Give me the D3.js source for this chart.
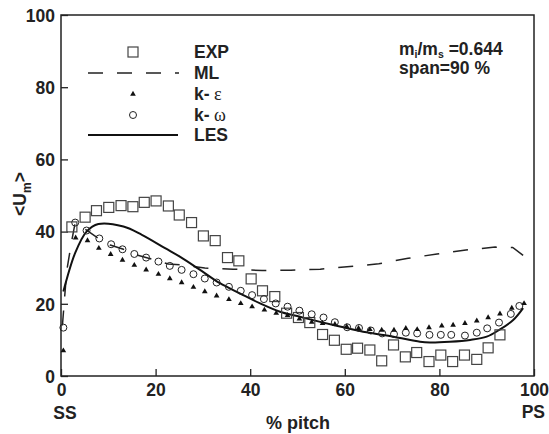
<!DOCTYPE html>
<html>
<head>
<meta charset="utf-8">
<script src="https://cdn.jsdelivr.net/npm/d3@7"></script>
<style>
  body { margin: 0; background: #fff; }
  svg { display: block; }
  text { font-family: "Liberation Sans", Arial, sans-serif; font-weight: bold; fill: #222; }
</style>
</head>
<body>
<svg id="chart"></svg>
<script>
// data: [% pitch, <Um>]
const expData = [
  [2.3, 41.3], [5.1, 44.0], [7.5, 45.8], [10.1, 46.7], [12.7, 47.2], [15.2, 46.9],
  [17.6, 48.1], [20.1, 48.5], [22.7, 47.1], [25.0, 44.6], [27.6, 42.5], [30.1, 38.8],
  [32.6, 37.5], [35.2, 32.8], [37.6, 31.9], [40.2, 26.9], [42.6, 23.6], [45.2, 22.0],
  [47.7, 17.4], [50.2, 16.2], [52.6, 14.8], [55.3, 11.5], [57.8, 9.9], [60.3, 7.4],
  [62.7, 7.7], [65.3, 7.2], [67.8, 4.2], [70.3, 8.6], [72.8, 5.3], [75.2, 6.5],
  [77.8, 4.0], [80.3, 5.8], [82.8, 4.0], [85.3, 5.8], [87.9, 4.6], [90.3, 7.8],
  [92.8, 11.4]
];

const mlData = [
  [0.3, 14], [1.2, 29], [2.2, 37], [3.0, 42.5], [5.4, 40.4], [7.9, 38.1], [10.4, 36.3],
  [13.2, 35.1], [15.3, 33.8], [19.9, 32.1], [22.7, 31.0], [25.5, 30.8], [30.4, 29.9],
  [36.4, 29.6], [42.5, 29.2], [48.6, 29.3], [54.8, 29.6], [61.1, 30.3], [67.2, 31.1],
  [73.4, 32.6], [79.5, 33.8], [85.6, 34.9], [91.8, 35.7], [95.5, 35.6], [97.9, 33.2]
];

const keData = [
  [0.5, 7.0], [3.1, 38.3], [5.6, 37.5], [8.0, 35.4], [10.5, 33.7], [13.0, 32.1],
  [15.5, 30.7], [18.0, 29.4], [20.6, 28.2], [23.0, 27.0], [25.5, 25.9], [28.0, 24.6],
  [30.4, 23.4], [32.9, 22.2], [35.5, 21.2], [38.0, 20.1], [40.4, 19.2], [43.0, 18.3],
  [45.5, 17.4], [47.9, 16.8], [50.4, 15.8], [53.0, 14.9], [55.3, 14.6], [57.9, 14.3],
  [60.4, 13.7], [62.9, 13.2], [65.3, 12.9], [67.8, 12.7], [70.4, 12.7], [72.9, 13.2],
  [75.3, 12.9], [77.8, 13.4], [80.5, 13.9], [82.9, 14.1], [85.4, 14.6], [87.9, 15.3],
  [90.3, 16.2], [92.8, 17.2], [95.3, 18.8], [97.9, 20.1]
];

const kwData = [
  [0.5, 13.4], [3.0, 42.5], [5.4, 40.3], [8.1, 38.1], [10.6, 36.5], [13.0, 35.1],
  [15.5, 33.8], [18.0, 32.8], [20.6, 31.7], [23.0, 30.5], [25.5, 29.4], [28.0, 28.2],
  [30.4, 27.0], [32.9, 25.9], [35.5, 24.7], [38.0, 23.6], [40.4, 22.4], [42.9, 21.3],
  [45.4, 20.1], [47.9, 19.2], [50.4, 18.1], [53.0, 17.1], [55.5, 16.2], [57.9, 14.9],
  [60.5, 13.5], [63.0, 13.3], [65.5, 12.6], [67.9, 11.8], [70.4, 11.6], [72.9, 12.0],
  [75.3, 11.8], [77.9, 11.4], [80.3, 11.4], [82.5, 11.4], [85.4, 11.2], [87.9, 12.0],
  [90.1, 13.2], [92.6, 14.8], [95.1, 17.2], [96.9, 19.4]
];

const lesData = [
  [0.5, 23.4], [3.0, 34.1], [5.4, 40.0], [7.9, 42.1], [13.2, 41.4], [17.1, 39.1],
  [22.0, 35.4], [25.2, 33.0], [29.4, 29.4], [33.6, 25.7], [37.8, 22.9], [42.1, 20.1],
  [46.3, 17.8], [50.5, 16.4], [54.8, 15.0], [59.7, 13.5], [64.6, 12.1], [70.3, 10.9],
  [75.9, 9.5], [78.0, 9.3], [82.2, 9.5], [86.5, 10.0], [90.0, 10.9], [92.8, 12.9],
  [95.6, 15.5], [97.7, 18.8]
];

const xTicks = [0, 20, 40, 60, 80, 100];
const yTicks = [0, 20, 40, 60, 80, 100];

const W = 549, H = 434;
const margin = { top: 15, right: 15, bottom: 58, left: 61 };
const width = W - margin.left - margin.right;
const height = H - margin.top - margin.bottom;

const svg = d3.select('#chart').attr('width', W).attr('height', H);
const g = svg.append('g').attr('transform', `translate(${margin.left},${margin.top})`);

const x = d3.scaleLinear().domain([0, 100]).range([0, width]);
const y = d3.scaleLinear().domain([0, 100]).range([height, 0]);

// frame
g.append('rect')
  .attr('width', width).attr('height', height)
  .attr('fill', 'none').attr('stroke', '#222').attr('stroke-width', 1.5);

// axes with inward ticks
const xAxis = g.append('g')
  .attr('transform', `translate(0,${height})`)
  .call(d3.axisBottom(x).tickValues(xTicks).tickSize(-7).tickPadding(8).tickFormat(d3.format('d')));
const yAxis = g.append('g')
  .call(d3.axisLeft(y).tickValues(yTicks).tickSize(-7).tickPadding(6).tickFormat(d3.format('d')));

[xAxis, yAxis].forEach((a) => {
  a.select('.domain').remove();
  a.selectAll('line').attr('stroke', '#222').attr('stroke-width', 1.3);
  a.selectAll('text').attr('font-size', 17.5).attr('fill', '#222')
    .attr('font-family', '"Liberation Sans", Arial, sans-serif').attr('font-weight', 'bold');
});
yAxis.selectAll('text').attr('dy', '0.36em');

const line = d3.line().x((d) => x(d[0])).y((d) => y(d[1]));
const smooth = d3.line().curve(d3.curveCatmullRom).x((d) => x(d[0])).y((d) => y(d[1]));

// ML dashed
g.append('path').datum(mlData)
  .attr('d', line).attr('fill', 'none').attr('stroke', '#222')
  .attr('stroke-width', 1.5).attr('stroke-dasharray', '15,14');

// LES solid
g.append('path').datum(lesData)
  .attr('d', smooth).attr('fill', 'none').attr('stroke', '#111').attr('stroke-width', 2);

// EXP squares
g.selectAll('.exp').data(expData).join('rect')
  .attr('x', (d) => x(d[0]) - 5).attr('y', (d) => y(d[1]) - 5)
  .attr('width', 10).attr('height', 10)
  .attr('fill', 'none').attr('stroke', '#444').attr('stroke-width', 1.2);

// k-omega circles
g.selectAll('.kw').data(kwData).join('circle')
  .attr('cx', (d) => x(d[0])).attr('cy', (d) => y(d[1])).attr('r', 3.5)
  .attr('fill', 'none').attr('stroke', '#222').attr('stroke-width', 1);

// k-epsilon triangles
const tri = d3.symbol().type(d3.symbolTriangle).size(14);
g.selectAll('.ke').data(keData).join('path')
  .attr('transform', (d) => `translate(${x(d[0])},${y(d[1])})`)
  .attr('d', tri).attr('fill', '#111');

// legend
const legend = svg.append('g');
const rows = [
  { label: 'EXP', y: 52 },
  { label: 'ML', y: 73 },
  { label: 'k-', greek: 'ε', y: 94 },
  { label: 'k-', greek: 'ω', y: 115 },
  { label: 'LES', y: 135 }
];
legend.append('rect').attr('x', 128).attr('y', 47).attr('width', 10).attr('height', 10)
  .attr('fill', 'none').attr('stroke', '#444').attr('stroke-width', 1.2);
legend.append('line').attr('x1', 88).attr('x2', 179).attr('y1', 73).attr('y2', 73)
  .attr('stroke', '#222').attr('stroke-width', 1.5).attr('stroke-dasharray', '15,14');
legend.append('path').attr('transform', 'translate(133,94)').attr('d', tri).attr('fill', '#111');
legend.append('circle').attr('cx', 133).attr('cy', 115).attr('r', 3.5)
  .attr('fill', 'none').attr('stroke', '#222').attr('stroke-width', 1);
legend.append('line').attr('x1', 88).attr('x2', 178).attr('y1', 135).attr('y2', 135)
  .attr('stroke', '#111').attr('stroke-width', 2);

rows.forEach((r) => {
  const t = legend.append('text').attr('x', 194).attr('y', r.y + 6).attr('font-size', 17.5);
  t.append('tspan').text(r.label);
  if (r.greek) {
    t.append('tspan').text(' ' + r.greek)
      .attr('font-family', '"Liberation Serif", "Times New Roman", serif')
      .attr('font-weight', 'normal').attr('font-size', 18);
  }
});

// annotation
const ann = svg.append('g');
const a1 = ann.append('text').attr('x', 399).attr('y', 55).attr('font-size', 17.5);
a1.append('tspan').text('m');
a1.append('tspan').text('i').attr('font-size', 10.5).attr('dy', 2.5);
a1.append('tspan').text('/m').attr('dy', -2.5);
a1.append('tspan').text('s').attr('font-size', 10.5).attr('dy', 2.5);
a1.append('tspan').text(' =0.644').attr('dy', -2.5);
ann.append('text').attr('x', 399).attr('y', 74).attr('font-size', 17.5).text('span=90 %');

// axis titles
svg.append('text').attr('x', 65).attr('y', 419).attr('text-anchor', 'middle')
  .attr('font-size', 17.5).text('SS');
svg.append('text').attr('x', 545).attr('y', 418).attr('text-anchor', 'end')
  .attr('font-size', 17.5).text('PS');
svg.append('text').attr('x', 298).attr('y', 429).attr('text-anchor', 'middle')
  .attr('font-size', 18).text('% pitch');

const yl = svg.append('text').attr('transform', 'translate(26,194) rotate(-90)')
  .attr('text-anchor', 'middle').attr('font-size', 17.5);
yl.append('tspan').text('<U');
yl.append('tspan').text('m').attr('font-size', 12).attr('dy', 5);
yl.append('tspan').text('>').attr('dy', -5);
</script>
</body>
</html>
